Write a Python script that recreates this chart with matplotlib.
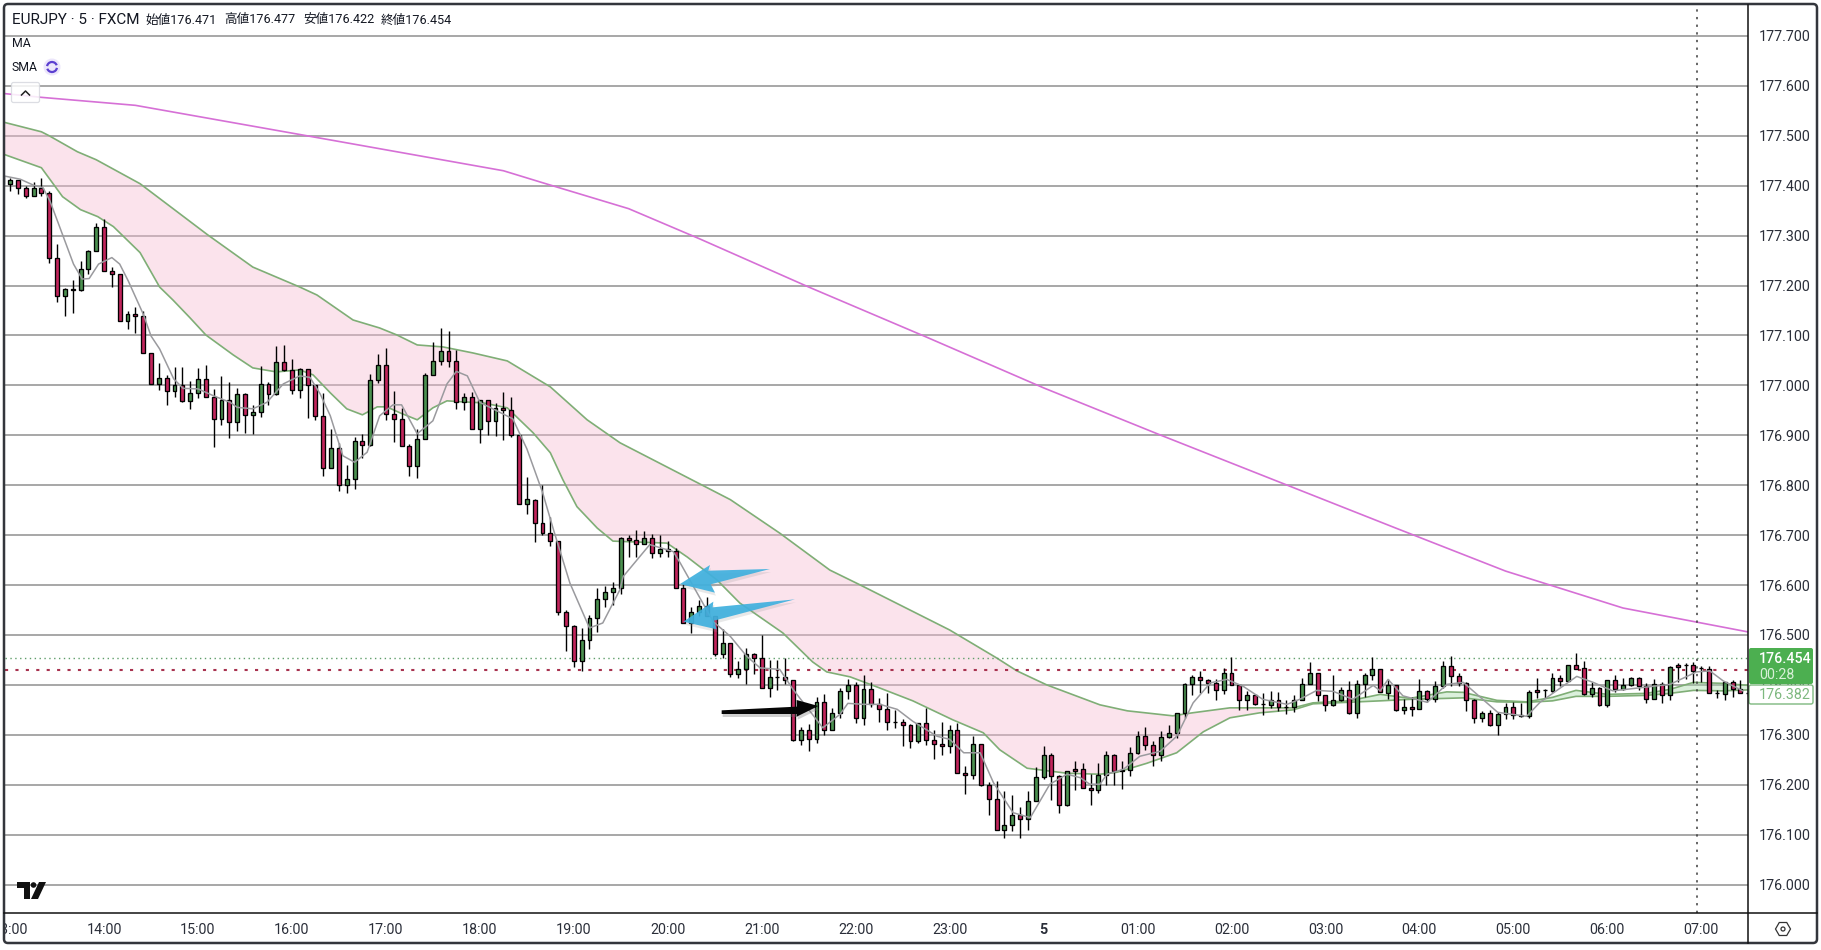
import numpy as np
import matplotlib
matplotlib.use("Agg")
import matplotlib.pyplot as plt
from matplotlib.patches import Circle, FancyBboxPatch, Polygon, RegularPolygon, Arc, Rectangle
from matplotlib.transforms import Bbox

plt.rcParams['font.family'] = ['Roboto', 'Noto Sans CJK JP', 'DejaVu Sans']

# --- candles, one every 5 minutes, index 0 = 14:00 ---
FIRST_BAR = -13
opens = [
    177.420, 177.403, 177.412, 177.396, 177.380, 177.396, 177.386, 177.256, 177.180, 177.194,
    177.192, 177.234, 177.270, 177.318, 177.230, 177.224, 177.128, 177.142, 177.138, 177.064,
    177.002, 177.014, 176.988, 177.000, 176.968, 176.984, 177.012, 176.976, 176.932, 176.970,
    176.926, 176.982, 176.940, 176.946, 177.002, 176.982, 177.046, 177.030, 176.990, 177.032,
    177.000, 176.938, 176.834, 176.874, 176.800, 176.812, 176.888, 176.880, 177.010, 177.040,
    176.942, 176.932, 176.878, 176.838, 176.892, 177.020, 177.048, 177.068, 177.048, 176.966,
    176.976, 176.912, 176.970, 176.928, 176.954, 176.950, 176.900, 176.762, 176.770, 176.724,
    176.704, 176.688, 176.546, 176.518, 176.448, 176.490, 176.534, 176.572, 176.586, 176.594,
    176.694, 176.690, 176.682, 176.694, 176.664, 176.672, 176.668, 176.594, 176.524, 176.546,
    176.558, 176.538, 176.462, 176.484, 176.422, 176.432, 176.462, 176.454, 176.394, 176.416,
    176.416, 176.410, 176.290, 176.310, 176.292, 176.366, 176.310, 176.344, 176.388, 176.400,
    176.334, 176.392, 176.362, 176.352, 176.326, 176.326, 176.320, 176.288, 176.324, 176.290,
    176.282, 176.278, 176.310, 176.224, 176.220, 176.282, 176.200, 176.172, 176.110, 176.120,
    176.140, 176.132, 176.168, 176.216, 176.260, 176.218, 176.160, 176.232, 176.232, 176.194,
    176.190, 176.220, 176.260, 176.228, 176.230, 176.264, 176.298, 176.280, 176.260, 176.296,
    176.304, 176.344, 176.402, 176.416, 176.410, 176.404, 176.390, 176.424, 176.400, 176.370,
    176.380, 176.362, 176.360, 176.370, 176.356, 176.356, 176.370, 176.402, 176.424, 176.380,
    176.360, 176.370, 176.390, 176.344, 176.402, 176.420, 176.432, 176.383, 176.399, 176.349,
    176.355, 176.351, 176.387, 176.371, 176.397, 176.437, 176.417, 176.403, 176.369, 176.333,
    176.343, 176.319, 176.341, 176.355, 176.339, 176.337, 176.389, 176.389, 176.387, 176.413,
    176.407, 176.439, 176.433, 176.381, 176.393, 176.359, 176.409, 176.391, 176.399, 176.413,
    176.397, 176.371, 176.401, 176.379, 176.439, 176.439, 176.439, 176.433, 176.431, 176.383,
    176.381, 176.405, 176.391, 176.383,
]
highs = [
    177.422, 177.416, 177.412, 177.399, 177.407, 177.415, 177.390, 177.283, 177.196, 177.211,
    177.250, 177.272, 177.326, 177.334, 177.238, 177.224, 177.148, 177.158, 177.148, 177.064,
    177.044, 177.020, 177.036, 177.036, 177.008, 177.034, 177.040, 176.992, 177.018, 177.006,
    176.994, 176.984, 176.960, 177.038, 177.006, 177.078, 177.080, 177.052, 177.034, 177.032,
    177.000, 176.984, 176.912, 176.884, 176.840, 176.896, 176.902, 177.022, 177.062, 177.074,
    176.988, 176.954, 176.882, 176.912, 177.024, 177.086, 177.114, 177.108, 177.070, 176.984,
    176.986, 176.970, 176.970, 176.964, 176.986, 176.976, 176.900, 176.816, 176.772, 176.800,
    176.736, 176.688, 176.550, 176.520, 176.514, 176.540, 176.594, 176.598, 176.606, 176.696,
    176.700, 176.710, 176.708, 176.702, 176.700, 176.688, 176.674, 176.602, 176.556, 176.570,
    176.576, 176.538, 176.512, 176.484, 176.448, 176.474, 176.464, 176.500, 176.450, 176.450,
    176.454, 176.410, 176.316, 176.322, 176.376, 176.382, 176.354, 176.394, 176.412, 176.406,
    176.420, 176.406, 176.374, 176.384, 176.350, 176.332, 176.322, 176.324, 176.354, 176.310,
    176.326, 176.320, 176.324, 176.238, 176.298, 176.282, 176.206, 176.208, 176.188, 176.180,
    176.156, 176.188, 176.236, 176.278, 176.264, 176.220, 176.228, 176.248, 176.244, 176.222,
    176.244, 176.268, 176.262, 176.248, 176.276, 176.308, 176.316, 176.288, 176.308, 176.320,
    176.344, 176.404, 176.420, 176.428, 176.412, 176.412, 176.434, 176.456, 176.402, 176.388,
    176.382, 176.384, 176.388, 176.386, 176.370, 176.380, 176.414, 176.446, 176.424, 176.380,
    176.420, 176.396, 176.408, 176.410, 176.424, 176.456, 176.432, 176.411, 176.399, 176.371,
    176.375, 176.411, 176.389, 176.407, 176.447, 176.457, 176.423, 176.405, 176.371, 176.347,
    176.349, 176.345, 176.363, 176.365, 176.363, 176.389, 176.413, 176.391, 176.423, 176.419,
    176.439, 176.463, 176.447, 176.405, 176.395, 176.409, 176.419, 176.413, 176.415, 176.415,
    176.403, 176.411, 176.405, 176.437, 176.443, 176.443, 176.445, 176.437, 176.437, 176.389,
    176.405, 176.409, 176.409, 176.390,
]
lows = [
    177.403, 177.389, 177.384, 177.375, 177.380, 177.379, 177.245, 177.167, 177.139, 177.145,
    177.190, 177.223, 177.270, 177.230, 177.198, 177.128, 177.113, 177.105, 177.064, 177.002,
    176.991, 176.961, 176.977, 176.966, 176.952, 176.974, 176.976, 176.876, 176.920, 176.894,
    176.908, 176.904, 176.902, 176.936, 176.960, 176.980, 177.028, 176.982, 176.974, 176.934,
    176.930, 176.818, 176.834, 176.789, 176.784, 176.792, 176.854, 176.878, 177.004, 176.930,
    176.886, 176.878, 176.818, 176.814, 176.892, 177.020, 177.040, 177.036, 176.952, 176.950,
    176.912, 176.884, 176.900, 176.898, 176.890, 176.896, 176.762, 176.742, 176.686, 176.700,
    176.678, 176.540, 176.467, 176.436, 176.428, 176.472, 176.506, 176.556, 176.560, 176.582,
    176.656, 176.656, 176.682, 176.654, 176.656, 176.656, 176.594, 176.524, 176.504, 176.538,
    176.538, 176.458, 176.454, 176.416, 176.414, 176.402, 176.422, 176.394, 176.376, 176.390,
    176.402, 176.288, 176.280, 176.268, 176.284, 176.300, 176.310, 176.334, 176.372, 176.324,
    176.320, 176.356, 176.326, 176.310, 176.314, 176.278, 176.274, 176.284, 176.280, 176.252,
    176.260, 176.264, 176.224, 176.182, 176.212, 176.198, 176.140, 176.110, 176.094, 176.108,
    176.094, 176.110, 176.168, 176.212, 176.170, 176.144, 176.158, 176.190, 176.194, 176.160,
    176.184, 176.200, 176.200, 176.192, 176.218, 176.262, 176.270, 176.238, 176.248, 176.294,
    176.294, 176.334, 176.380, 176.384, 176.384, 176.370, 176.382, 176.400, 176.350, 176.350,
    176.360, 176.340, 176.354, 176.348, 176.342, 176.346, 176.370, 176.402, 176.368, 176.348,
    176.358, 176.368, 176.342, 176.334, 176.376, 176.410, 176.385, 176.371, 176.347, 176.341,
    176.337, 176.351, 176.365, 176.365, 176.393, 176.397, 176.397, 176.347, 176.323, 176.325,
    176.317, 176.299, 176.331, 176.331, 176.335, 176.333, 176.373, 176.373, 176.385, 176.397,
    176.407, 176.431, 176.379, 176.375, 176.357, 176.355, 176.385, 176.389, 176.397, 176.389,
    176.363, 176.371, 176.363, 176.369, 176.405, 176.411, 176.403, 176.405, 176.383, 176.373,
    176.369, 176.375, 176.383, 176.378,
]
closes = [
    177.403, 177.412, 177.396, 177.380, 177.396, 177.385, 177.256, 177.180, 177.194, 177.192,
    177.234, 177.270, 177.318, 177.230, 177.224, 177.128, 177.142, 177.138, 177.064, 177.002,
    177.014, 176.988, 177.000, 176.968, 176.984, 177.012, 176.976, 176.932, 176.970, 176.926,
    176.982, 176.940, 176.946, 177.002, 176.982, 177.046, 177.030, 176.990, 177.032, 177.000,
    176.938, 176.834, 176.874, 176.800, 176.812, 176.888, 176.880, 177.010, 177.040, 176.942,
    176.932, 176.878, 176.838, 176.892, 177.020, 177.048, 177.068, 177.048, 176.966, 176.976,
    176.912, 176.970, 176.928, 176.954, 176.950, 176.900, 176.762, 176.772, 176.724, 176.704,
    176.688, 176.546, 176.518, 176.448, 176.490, 176.534, 176.572, 176.586, 176.594, 176.694,
    176.690, 176.682, 176.694, 176.664, 176.672, 176.668, 176.594, 176.524, 176.546, 176.558,
    176.538, 176.462, 176.484, 176.422, 176.432, 176.462, 176.454, 176.394, 176.416, 176.416,
    176.410, 176.290, 176.310, 176.292, 176.366, 176.310, 176.344, 176.388, 176.400, 176.334,
    176.392, 176.362, 176.352, 176.326, 176.326, 176.320, 176.288, 176.324, 176.290, 176.282,
    176.278, 176.310, 176.224, 176.220, 176.282, 176.200, 176.172, 176.110, 176.120, 176.140,
    176.132, 176.168, 176.216, 176.260, 176.218, 176.160, 176.228, 176.228, 176.194, 176.190,
    176.220, 176.260, 176.228, 176.230, 176.264, 176.298, 176.280, 176.260, 176.296, 176.304,
    176.344, 176.402, 176.416, 176.410, 176.404, 176.390, 176.424, 176.400, 176.370, 176.380,
    176.362, 176.362, 176.370, 176.356, 176.356, 176.370, 176.402, 176.424, 176.380, 176.360,
    176.370, 176.390, 176.344, 176.402, 176.420, 176.432, 176.385, 176.399, 176.349, 176.355,
    176.351, 176.387, 176.371, 176.397, 176.437, 176.417, 176.403, 176.369, 176.333, 176.343,
    176.319, 176.341, 176.355, 176.339, 176.337, 176.385, 176.385, 176.389, 176.413, 176.407,
    176.439, 176.431, 176.381, 176.393, 176.359, 176.409, 176.391, 176.399, 176.413, 176.397,
    176.371, 176.401, 176.379, 176.435, 176.435, 176.439, 176.427, 176.433, 176.383, 176.383,
    176.405, 176.391, 176.383, 176.383,
]

# --- moving averages ---
slow_t = [-13, -8, 4, 27, 51, 56, 67, 76, 90, 105, 120, 135, 150, 165, 179, 194, 210]
slow_ma = [177.585, 177.577, 177.561, 177.497, 177.430, 177.406, 177.354, 177.294, 177.197,
           177.097, 176.995, 176.900, 176.807, 176.714, 176.628, 176.554, 176.506]

upper_t = [-13, -8, -7, -3.4, -1, 4.6, 13.2, 19, 25, 27.2, 31.8, 35.2, 37.4, 40, 43.3, 47.1,
           51.5, 57, 61.7, 65.9, 80, 86.3, 92.7, 96.6, 108, 114, 116.6, 120.4, 127.2, 130.7,
           136.5, 139, 143.8, 151.9, 154.4, 159, 163, 166.8, 171.5, 173.6, 177.9, 181.7, 185,
           188, 192, 197, 200, 203, 206.8, 210]
upper_ma = [177.528, 177.508, 177.500, 177.468, 177.452, 177.404, 177.302, 177.237, 177.197,
            177.181, 177.131, 177.115, 177.101, 177.081, 177.077, 177.065, 177.049, 176.997,
            176.931, 176.885, 176.771, 176.704, 176.630, 176.600, 176.510, 176.454, 176.428,
            176.400, 176.360, 176.348, 176.338, 176.344, 176.354, 176.354, 176.364, 176.368,
            176.381, 176.373, 176.386, 176.385, 176.369, 176.366, 176.375, 176.389, 176.381,
            176.383, 176.391, 176.405, 176.403, 176.399]

lower_t = [-13, -8, -6.6, -5.3, -3, -0.8, 1.2, 4.6, 7.1, 8.8, 11, 13, 16.5, 19, 22, 25, 26.7,
           28.9, 31, 33, 34.9, 36.1, 37.8, 40, 42, 43.8, 45.8, 48.4, 51.5, 54.8, 57, 58.6,
           60.4, 63, 65, 71.9, 74.5, 78.3, 81.2, 86.7, 90.5, 92.3, 95.3, 98.7, 103.3, 108.4,
           112.3, 114.4, 117.9, 123, 127.2, 129.4, 133.2, 137, 140.4, 143.8, 147.6, 151.9,
           154.4, 163, 166.8, 171.5, 173.6, 177.9, 181.7, 185, 188, 192, 197, 200, 203, 206.8,
           210]
lower_ma = [177.464, 177.436, 177.406, 177.378, 177.352, 177.338, 177.318, 177.266, 177.197,
            177.171, 177.135, 177.101, 177.061, 177.035, 177.027, 177.031, 177.021, 176.985,
            176.953, 176.941, 176.957, 176.957, 176.945, 176.931, 176.955, 176.969, 176.967,
            176.965, 176.955, 176.905, 176.865, 176.811, 176.757, 176.714, 176.688, 176.684,
            176.656, 176.610, 176.564, 176.504, 176.446, 176.426, 176.416, 176.396, 176.368,
            176.330, 176.304, 176.270, 176.233, 176.223, 176.221, 176.225, 176.243, 176.264,
            176.306, 176.334, 176.344, 176.350, 176.362, 176.368, 176.371, 176.373, 176.374,
            176.366, 176.365, 176.368, 176.377, 176.377, 176.379, 176.383, 176.389, 176.388,
            176.390]

fast_t = [-12.6, -10.7, -9, -7.8, -6.9, -5.8, -3.9, -2.8, -1.9, -0.7, 1, 2, 3.1, 5, 6, 7.1,
          8.9, 10.1, 12, 14, 16.1, 17, 19, 20.8, 22.9, 25, 26.3, 27.6, 28.9, 30.5, 32, 33.6,
          35.2, 36.9, 38, 40, 42, 43.8, 45, 46.4, 48, 52.2, 54, 56, 57.4, 59.5, 62, 63.7,
          65.9, 66.3, 69.7, 72.7, 73.6, 77.8, 80, 82.1, 83.8, 86.3, 88, 91.8, 94, 95, 97,
          99.1, 101.3, 103.3, 106.4, 108, 109.8, 111.9, 113.6, 116.1, 118.3, 120.8, 123,
          124.7, 125.9, 127.2, 128.1, 130.2, 132.3, 134.9, 137, 139.1, 141.3, 143.4, 145.5,
          148, 151.1, 152.7, 154.9, 157, 159.5, 162.1, 163, 164, 165.9, 169, 171.5, 173.6,
          176.1, 178, 181.7, 183.4, 188.1, 190.2, 192.7, 200, 203.4, 205.1, 206.8, 209.3]
fast_ma = [177.419, 177.413, 177.401, 177.396, 177.369, 177.323, 177.243, 177.213, 177.214,
           177.243, 177.256, 177.243, 177.209, 177.143, 177.099, 177.073, 177.013, 176.994,
           176.993, 176.979, 176.966, 176.956, 176.953, 176.966, 177.003, 177.019, 177.016,
           176.983, 176.939, 176.859, 176.846, 176.866, 176.939, 176.961, 176.961, 176.903,
           176.929, 177.003, 177.028, 177.019, 176.966, 176.933, 176.873, 176.786, 176.711,
           176.604, 176.514, 176.524, 176.591, 176.617, 176.681, 176.667, 176.644, 176.527,
           176.497, 176.457, 176.434, 176.431, 176.391, 176.314, 176.341, 176.363, 176.361,
           176.361, 176.351, 176.327, 176.297, 176.291, 176.264, 176.264, 176.204, 176.144,
           176.134, 176.201, 176.221, 176.214, 176.201, 176.201, 176.221, 176.231, 176.257,
           176.267, 176.297, 176.364, 176.404, 176.411, 176.397, 176.371, 176.361, 176.371,
           176.389, 176.387, 176.371, 176.399, 176.388, 176.411, 176.378, 176.365, 176.401,
           176.405, 176.371, 176.345, 176.337, 176.365, 176.417, 176.405, 176.388, 176.401,
           176.426, 176.428, 176.408, 176.388]

y_ticks = [176.0 + 0.1 * i for i in range(18)]
x_ticks = [-12, 0, 12, 24, 36, 48, 60, 72, 84, 96, 108, 120, 132, 144, 156, 168, 180, 192, 204]
x_labels = ['13:00', '14:00', '15:00', '16:00', '17:00', '18:00', '19:00', '20:00', '21:00',
            '22:00', '23:00', '5', '01:00', '02:00', '03:00', '04:00', '05:00', '06:00', '07:00']
LAST_PRICE = 176.454
PREV_PRICE = 176.429
CROSSHAIR_T = 203.5
BAND_SWITCH = 152

UP_COLOR = '#4c9150'
DOWN_COLOR = '#c2255c'
BAND_COLOR = '#7fae76'

W, H = 1821, 950
fig = plt.figure(figsize=(W / 100, H / 100), dpi=100, facecolor='white')

# main pane, placed in pixels
L, R, T, B = 5, 1748, 5, 913
ax = fig.add_axes([L / W, 1 - B / H, (R - L) / W, (B - T) / H])
ax.set_xlim(-12.65, 209.97)
ax.set_ylim(175.943, 177.762)
ax.set_axisbelow(True)
ax.grid(axis='y', color='#8f8f8f', lw=1.1)

ax.set_yticks(y_ticks)
ax.set_yticklabels([f'{v:.3f}' for v in y_ticks], fontsize=10.3, color='#2a2e39')
ax.set_xticks(x_ticks)
ax.set_xticklabels(x_labels, fontsize=10.3, color='#2a2e39')
ax.yaxis.tick_right()
ax.tick_params(axis='both', length=0)
ax.tick_params(axis='y', pad=8)
ax.tick_params(axis='x', pad=7)
ax.get_xticklabels()[x_labels.index('5')].set_fontweight('bold')
# 13:00 is cut by the left edge of the pane
first = ax.get_xticklabels()[0]
first.set_clip_on(True)
first.set_clip_box(Bbox([[L, 0], [200, H]]))

for side in ['top', 'left', 'right', 'bottom']:
    ax.spines[side].set_visible(False)

# ribbon between the two averages
up_t, up_v = np.array(upper_t), np.array(upper_ma)
lo_t, lo_v = np.array(lower_t), np.array(lower_ma)
a = up_t <= BAND_SWITCH
b = lo_t <= BAND_SWITCH
ax.fill(np.r_[up_t[a], lo_t[b][::-1]], np.r_[up_v[a], lo_v[b][::-1]],
        color='#f7bdd2', alpha=0.42, lw=0, zorder=1)
a = up_t >= BAND_SWITCH
b = lo_t >= BAND_SWITCH
ax.fill(np.r_[up_t[a], lo_t[b][::-1]], np.r_[up_v[a], lo_v[b][::-1]],
        color='#a5dba8', alpha=0.4, lw=0, zorder=1)

ax.plot(slow_t, slow_ma, color='#d670d6', lw=1.2, zorder=2)
ax.plot(upper_t, upper_ma, color=BAND_COLOR, lw=1.2, zorder=2)
ax.plot(lower_t, lower_ma, color=BAND_COLOR, lw=1.2, zorder=2)

# price lines and crosshair
ax.axhline(LAST_PRICE, color='#5f9e6a', lw=1, ls=(0, (1, 2.5)), zorder=2)
ax.axhline(PREV_PRICE, color='#a8324f', lw=1.5, ls=(0, (1.5, 3.5)), zorder=2)
ax.axvline(CROSSHAIR_T, color='#3c3c3c', lw=1.1, ls=(0, (1.5, 3.5)), zorder=5)

# candles
t = np.arange(FIRST_BAR, FIRST_BAR + len(opens))
o, h, l, c = np.array(opens), np.array(highs), np.array(lows), np.array(closes)
colors = [UP_COLOR if cc >= oo else DOWN_COLOR for oo, cc in zip(o, c)]
ax.vlines(t, l, h, color='black', lw=1.0, zorder=3)
ax.bar(t, np.abs(c - o), bottom=np.minimum(o, c), width=0.5, color=colors,
       edgecolor='black', lw=0.95, zorder=4)

ax.plot(fast_t, fast_ma, color='#9a9a9e', lw=1.1, zorder=4.5)

# everything else sits on an overlay in pixel coordinates
ov = fig.add_axes([0, 0, 1, 1], zorder=10)
ov.set_xlim(0, W)
ov.set_ylim(H, 0)
ov.axis('off')
ov.patch.set_visible(False)

# frame and axis rules
ov.add_patch(FancyBboxPatch((4, 4), 1813, 939, boxstyle='round,pad=0,rounding_size=4',
                            fc='none', ec='#33363c', lw=1.8))
ov.plot([R, R], [T, 943], color='#111111', lw=1.1)
ov.plot([4, 1817], [B, B], color='#111111', lw=1.1)

# hand drawn arrows
blue1 = np.array([(690, 207), (505, 212), (510, 195), (420, 252), (525, 278), (512, 253)]) / 3 + (540, 500)
blue2 = np.array([(765, 298), (518, 322), (520, 305), (430, 365), (530, 388), (522, 362)]) / 3 + (540, 500)
black = np.array([(545, 631), (770, 620), (770, 600), (835, 618), (770, 650), (770, 642), (545, 642)]) / 3 + (540, 500)
for pts in [blue1, blue2]:
    ov.add_patch(Polygon(pts + (1, 3), closed=True, fc='#999999', ec='none', alpha=0.22))
    ov.add_patch(Polygon(pts, closed=True, fc='#3fb0de', ec='none', alpha=0.92))
ov.add_patch(Polygon(black + (1, 3), closed=True, fc='#777777', ec='none', alpha=0.35))
ov.add_patch(Polygon(black, closed=True, fc='#050505', ec='none'))

# legend at top left
ov.text(12, 20, 'EURJPY · 5 · FXCM', fontsize=11, color='#131722', va='center')
ohlc_x = [145, 224, 303, 381]
ohlc_txt = ['始値176.471', '高値176.477', '安値176.422', '終値176.454']
for xx, s in zip(ohlc_x, ohlc_txt):
    ov.text(xx, 20, s, fontsize=9.1, color='#131722', va='center')
ov.text(12, 43.5, 'MA', fontsize=8.8, color='#131722', va='center')
ov.text(12, 67.5, 'SMA', fontsize=8.8, color='#131722', va='center')
ov.add_patch(Circle((52, 67), 8.5, fc='#ece6fb', ec='none'))
ov.add_patch(Arc((52, 67), 10, 10, theta1=190, theta2=340, ec='#5b3fd0', lw=1.6))
ov.add_patch(Arc((52, 67), 10, 10, theta1=10, theta2=160, ec='#5b3fd0', lw=1.6))
ov.add_patch(FancyBboxPatch((11.5, 82.5), 28, 20, boxstyle='round,pad=0,rounding_size=2',
                            fc='white', ec='#d6d8de', lw=0.9, alpha=0.85))
ov.plot([21.5, 25.5, 29.5], [95, 91, 95], color='#222222', lw=1.1)

# TradingView mark
ov.add_patch(Polygon([(17, 882), (30, 882), (30, 899), (24, 899), (24, 888), (17, 888)], fc='#111111', ec='none'))
ov.add_patch(Circle((33.5, 885), 2.8, fc='#111111', ec='none'))
ov.add_patch(Polygon([(39, 882), (46, 882), (38, 899), (31, 899)], fc='#111111', ec='none'))

# price badges on the right scale
ov.add_patch(FancyBboxPatch((1749, 648), 64, 36, boxstyle='round,pad=0,rounding_size=2',
                            fc='#4caf50', ec='none'))
ov.text(1759, 659, '176.454', fontsize=10.3, color='white', fontweight='medium', va='center')
ov.text(1759, 675, '00:28', fontsize=10.3, color='#d8f0d8', va='center')
ov.add_patch(FancyBboxPatch((1749, 685), 64, 19, boxstyle='round,pad=0,rounding_size=2',
                            fc='white', ec='#7db87f', lw=1))
ov.text(1759, 695, '176.382', fontsize=10.3, color='#7db87f', va='center')

# settings icon
ov.add_patch(RegularPolygon((1783, 929), 6, radius=7.5, orientation=np.pi / 6, fc='none', ec='#333333', lw=0.9))
ov.add_patch(Circle((1783, 929), 2, fc='none', ec='#333333', lw=0.9))

fig.savefig('out.png', dpi=100, facecolor='white')
